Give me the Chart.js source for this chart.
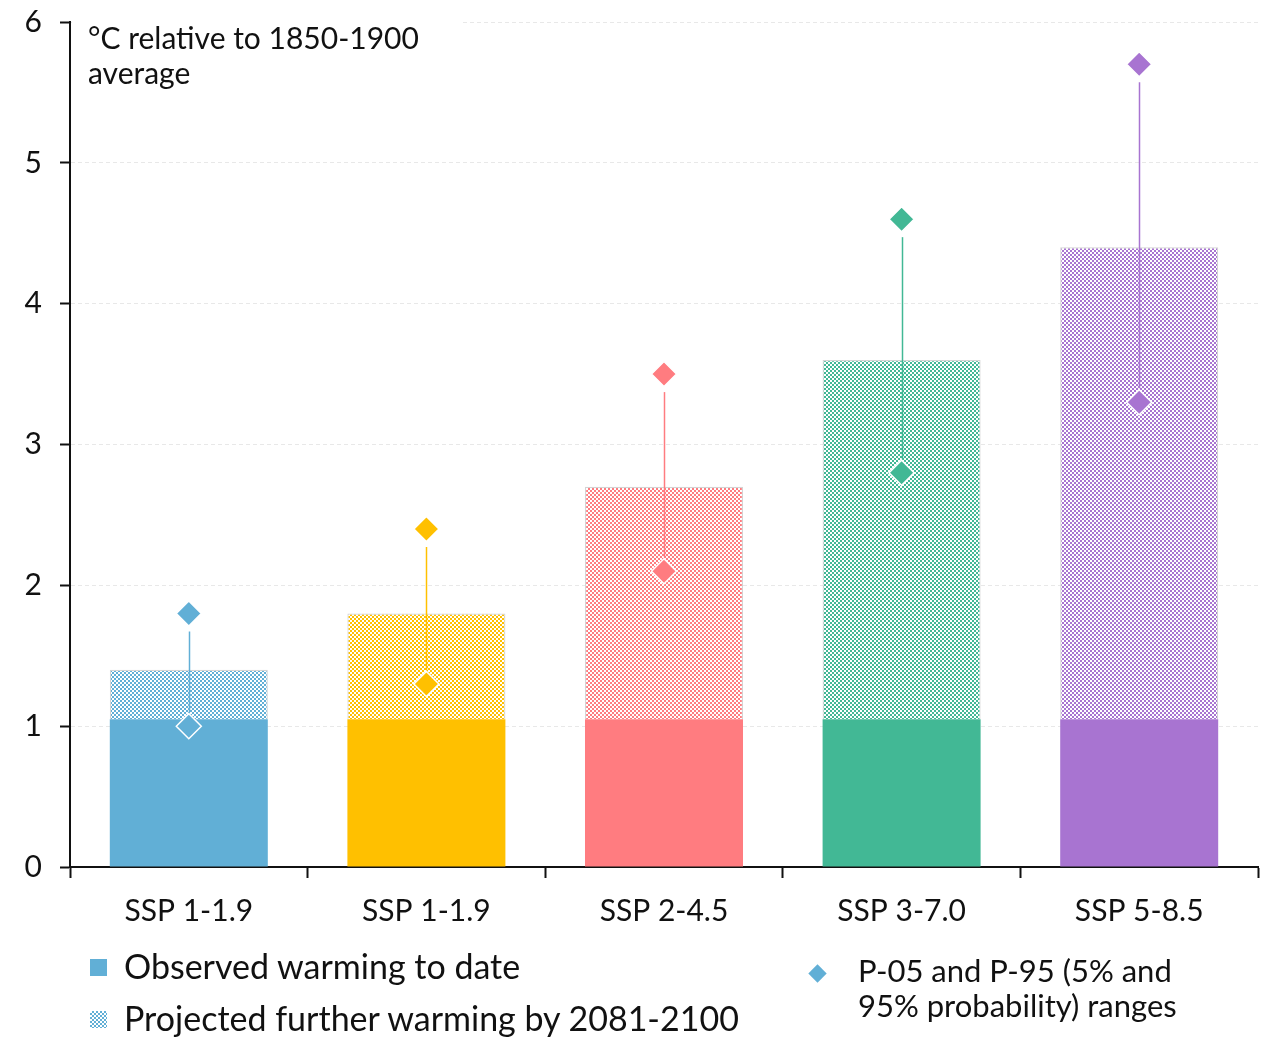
<!DOCTYPE html>
<html>
<head>
<meta charset="utf-8">
<script src="https://cdn.jsdelivr.net/npm/chart.js@4/dist/chart.umd.min.js"></script>
<style>
  html, body { margin: 0; padding: 0; background: #fff; }
  #wrap { position: relative; width: 1275px; height: 1037px; }
  #warmChart { position: absolute; left: 0; top: 0; }
  .leg { position: absolute; font-family: Lato, sans-serif; color: #111; white-space: nowrap; }
  .sw { position: absolute; width: 17px; height: 17px; }
</style>
</head>
<body>
<div id="wrap">
  <canvas id="warmChart" width="1275" height="1037"></canvas>

  <div class="sw" style="left:90px; top:959px; background:#61AFD6;"></div>
  <div class="leg" style="left:124px; top:945px; font-size:34px;">Observed warming to date</div>
  <div class="sw" style="left:90px; top:1011px; background:repeating-conic-gradient(#61AFD6 0 25%, #fff 0 50%) 0 0/4px 4px;"></div>
  <div class="leg" style="left:124px; top:997px; font-size:34px;">Projected further warming by 2081-2100</div>

  <div class="sw" style="left:811px; top:967px; width:13px; height:13px; background:#61AFD6; transform:rotate(45deg);"></div>
  <div class="leg" style="left:858px; top:953px; font-size:31px; line-height:35px;">P-05 and P-95 (5% and<br>95% probability) ranges</div>
</div>

<script>
var scenarios = ["SSP 1-1.9", "SSP 1-1.9", "SSP 2-4.5", "SSP 3-7.0", "SSP 5-8.5"];
var colours = ["#61AFD6", "#FFC000", "#FF7C80", "#42B895", "#A874D1"];

// warming already observed, and the extra warming projected on top of it
var observed = [1.05, 1.05, 1.05, 1.05, 1.05];
var projected = [0.35, 0.75, 1.65, 2.55, 3.35];

// 5% and 95% probability values
var p05 = [1.0, 1.3, 2.1, 2.8, 3.3];
var p95 = [1.8, 2.4, 3.5, 4.6, 5.7];

var yTicks = [0, 1, 2, 3, 4, 5, 6];

var FONT = "Lato, sans-serif";

// checkerboard fill (2px cells) for the projected part of each bar
function dither(colour) {
    var c = document.createElement("canvas");
    c.width = 4;
    c.height = 4;
    var g = c.getContext("2d");
    g.fillStyle = "#ffffff";
    g.fillRect(0, 0, 4, 4);
    g.fillStyle = colour;
    g.fillRect(0, 0, 2, 2);
    g.fillRect(2, 2, 2, 2);
    return g.createPattern(c, "repeat");
}

// vertical line joining each pair of diamonds
var rangeLines = {
    id: "rangeLines",
    afterDatasetsDraw: function (chart) {
        var ctx = chart.ctx;
        var xs = chart.scales.x, ys = chart.scales.y;
        ctx.save();
        ctx.lineWidth = 1.5;
        for (var i = 0; i < scenarios.length; i++) {
            var x = Math.round(xs.getPixelForValue(i)) + 0.5;
            ctx.strokeStyle = colours[i];
            ctx.beginPath();
            ctx.moveTo(x, ys.getPixelForValue(p95[i]) + 18);
            ctx.lineTo(x, ys.getPixelForValue(p05[i]) - 14);
            ctx.stroke();
        }
        ctx.restore();
    }
};

// unit note in the top left corner of the plot
var unitNote = {
    id: "unitNote",
    beforeDatasetsDraw: function (chart) {
        var ctx = chart.ctx, area = chart.chartArea;
        ctx.save();
        ctx.fillStyle = "#ffffff";
        ctx.fillRect(area.left + 2, area.top - 4, 390, 80);
        ctx.fillStyle = "#111111";
        ctx.font = "30px " + FONT;
        ctx.textBaseline = "middle";
        ctx.fillText("\u00B0C relative to 1850-1900", 88, 39);
        ctx.fillText("average", 88, 74);
        ctx.restore();
    }
};

var config = {
    type: "bar",
    data: {
        labels: scenarios,
        datasets: [
            {
                type: "line",
                label: "P-95",
                data: p95,
                stack: "p95",
                showLine: false,
                order: 0,
                pointStyle: "rectRot",
                pointRadius: 12.5,
                pointBackgroundColor: colours,
                pointBorderColor: "#ffffff",
                pointBorderWidth: 1.5
            },
            {
                type: "line",
                label: "P-05",
                data: p05,
                stack: "p05",
                showLine: false,
                order: 0,
                pointStyle: "rectRot",
                pointRadius: 12.5,
                pointBackgroundColor: colours,
                pointBorderColor: "#ffffff",
                pointBorderWidth: 1.5
            },
            {
                label: "Observed warming to date",
                data: observed,
                stack: "bars",
                order: 1,
                backgroundColor: colours,
                borderWidth: 0
            },
            {
                label: "Projected further warming by 2081-2100",
                data: projected,
                stack: "bars",
                order: 1,
                backgroundColor: colours.map(dither),
                borderColor: "#d4d4d4",
                borderWidth: 1.2,
                borderSkipped: "bottom"
            }
        ]
    },
    options: {
        responsive: false,
        animation: false,
        events: [],
        barPercentage: 0.665,
        categoryPercentage: 1,
        layout: { padding: { left: 0, top: 22, right: 17, bottom: 100 } },
        plugins: {
            legend: { display: false },
            tooltip: { enabled: false }
        },
        scales: {
            x: {
                stacked: true,
                grid: {
                    offset: true,
                    drawOnChartArea: false,
                    tickLength: 11,
                    tickColor: "#111111",
                    tickWidth: 2
                },
                border: { color: "#111111", width: 2 },
                ticks: {
                    color: "#111111",
                    padding: 15,
                    font: { family: FONT, size: 30 }
                },
                afterFit: function (scale) {
                    scale.height = 70;
                    scale.paddingLeft = 0;
                    scale.paddingRight = 0;
                }
            },
            y: {
                stacked: true,
                min: 0,
                max: 6,
                afterBuildTicks: function (scale) {
                    scale.ticks = yTicks.map(function (v) { return { value: v }; });
                },
                grid: {
                    color: "#e8e8e8",
                    lineWidth: 1,
                    tickLength: 10,
                    tickColor: "#111111",
                    tickWidth: 2
                },
                border: { color: "#111111", width: 2, dash: [4, 3] },
                ticks: {
                    color: "#111111",
                    padding: 18,
                    font: { family: FONT, size: 30 }
                },
                afterFit: function (scale) {
                    scale.width = 70;
                    scale.paddingTop = 0;
                    scale.paddingBottom = 0;
                }
            }
        }
    },
    plugins: [unitNote, rangeLines]
};

var warmChart = new Chart(document.getElementById("warmChart"), config);
</script>
</body>
</html>
